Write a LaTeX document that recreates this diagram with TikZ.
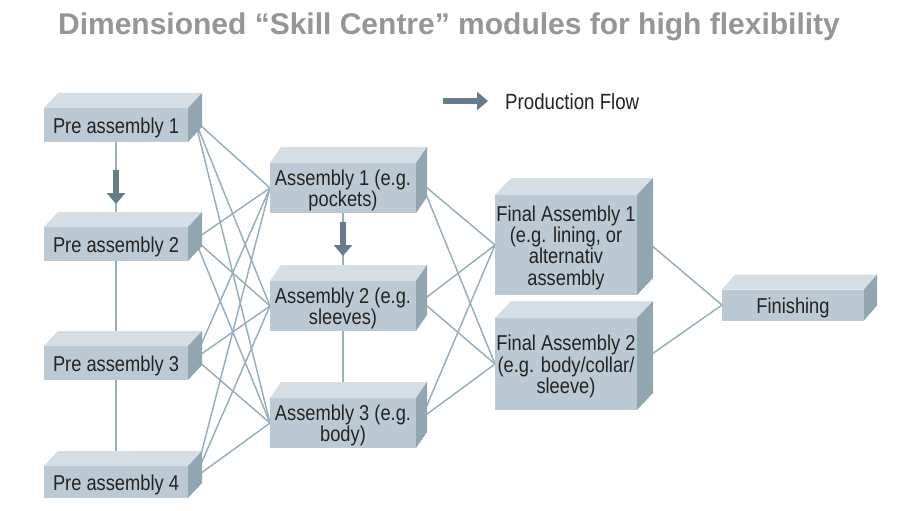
\documentclass[tikz,border=0pt]{standalone}
\usepackage{fontspec}
\setmainfont{Liberation Sans}
\newfontfamily\narrowfont[FakeStretch=0.85]{Liberation Sans}
\usetikzlibrary{arrows.meta,calc}
\definecolor{frontc}{RGB}{186,201,211}
\definecolor{topc}{RGB}{212,222,228}
\definecolor{sidec}{RGB}{146,166,178}
\definecolor{linec}{RGB}{152,176,189}
\definecolor{arrowc}{RGB}{100,124,139}
\definecolor{titlec}{RGB}{150,150,150}
\definecolor{txtc}{RGB}{35,35,35}
\pgfdeclarelayer{background}
\pgfdeclarelayer{paper}
\pgfsetlayers{paper,background,main}
% #1 node name, #2 depth x (pt), #3 depth y (pt), #4 text
\newcommand\mkcube[4]{%
  \fill[topc] (#1.north west) -- ++(#2pt,#3pt) -- ([shift={(#2pt,#3pt)}]#1.north east) -- (#1.north east) -- cycle;
  \fill[sidec] (#1.north east) -- ([shift={(#2pt,#3pt)}]#1.north east) -- ([shift={(#2pt,#3pt)}]#1.south east) -- (#1.south east) -- cycle;
  \coordinate (#1o) at ($(#1.east)+({0.5*#2pt},{0.3*#3pt})$);
  \node[celltext] (#1t) at ([yshift=-2.5pt]#1.center) {#4};
}
\begin{document}
\begin{tikzpicture}[x=1pt,y=-1pt,
  cube/.style={fill=frontc, inner sep=0pt, outer sep=0pt},
  celltext/.style={inner sep=0pt, align=center,
    font=\narrowfont\fontsize{21.5}{21.3}\selectfont, text=txtc},
  link/.style={draw=linec, line width=1.5pt},
  flow/.style={draw=arrowc, line width=6.5pt, -{Triangle[width=18pt,length=11pt]}},
]
\useasboundingbox (0,0) rectangle (900,511);
\begin{pgfonlayer}{paper}
  \fill[white] (0,0) rectangle (900,511);
\end{pgfonlayer}

\node[font=\bfseries\fontsize{30}{36}\selectfont, text=titlec, anchor=base] (title) at (449,35)
  {Dimensioned “Skill Centre” modules for high flexibility};

% Pre assemblies
\node[cube, minimum width=144pt, minimum height=34pt] (p1) at (116,125) {};
\mkcube{p1}{14}{15}{Pre assembly 1}
\node[cube, minimum width=144pt, minimum height=34pt] (p2) at (116,244) {};
\mkcube{p2}{14}{15}{Pre assembly 2}
\node[cube, minimum width=144pt, minimum height=34pt] (p3) at (116,363) {};
\mkcube{p3}{14}{15}{Pre assembly 3}
\node[cube, minimum width=144pt, minimum height=32pt] (p4) at (116,482) {};
\mkcube{p4}{14}{15}{Pre assembly 4}

% Assemblies
\node[cube, minimum width=146pt, minimum height=50pt] (a1) at (343,188) {};
\mkcube{a1}{11}{16}{Assembly 1 (e.g.\\pockets)}
\node[cube, minimum width=146pt, minimum height=50pt] (a2) at (343,306) {};
\mkcube{a2}{11}{16}{Assembly 2 (e.g.\\sleeves)}
\node[cube, minimum width=146pt, minimum height=50pt] (a3) at (343,423) {};
\mkcube{a3}{11}{16}{Assembly 3 (e.g.\\body)}

% Final assemblies
\node[cube, minimum width=142pt, minimum height=100pt] (f1) at (566,245) {};
\mkcube{f1}{16}{17}{Final Assembly 1\\(e.g. lining, or\\alternativ\\assembly}
\node[cube, minimum width=142pt, minimum height=92pt] (f2) at (566,364) {};
\mkcube{f2}{16}{17}{Final Assembly 2\\(e.g. body/collar/\\sleeve)}

% Finishing
\node[cube, minimum width=142pt, minimum height=31pt] (fin) at (793,305) {};
\mkcube{fin}{13}{15}{Finishing}

% connectors
\begin{pgfonlayer}{background}
  \draw[link] (p1.south) -- (p2.north);
  \draw[link] (p2.south) -- (p3.north);
  \draw[link] (p3.south) -- (p4.north);
  \draw[link] (a1.south) -- (a2.north);
  \draw[link] (a2.south) -- (a3.north);
  \foreach \p in {p1,p2,p3,p4}{
    \foreach \a in {a1,a2,a3}{
      \draw[link] (\p o) -- (\a.west);
    }
  }
  \foreach \a in {a1,a2,a3}{
    \foreach \f in {f1,f2}{
      \draw[link] (\a o) -- (\f.west);
    }
  }
  \draw[link] (f1o) -- (fin.west);
  \draw[link] (f2o) -- (fin.west);
\end{pgfonlayer}

% flow arrows
\coordinate (ar1s) at (116,170);
\coordinate (ar1e) at (116,204);
\draw[flow] (ar1s) -- (ar1e);
\coordinate (ar2s) at (343,222);
\coordinate (ar2e) at (343,256);
\draw[flow] (ar2s) -- (ar2e);

% legend
\coordinate (lg1) at (443,101);
\coordinate (lg2) at (488,101);
\draw[flow] (lg1) -- (lg2);
\node[anchor=west, inner sep=0pt, font=\narrowfont\fontsize{22}{22}\selectfont, text=txtc] (lgt) at (505,102) {Production Flow};
\end{tikzpicture}
\end{document}
